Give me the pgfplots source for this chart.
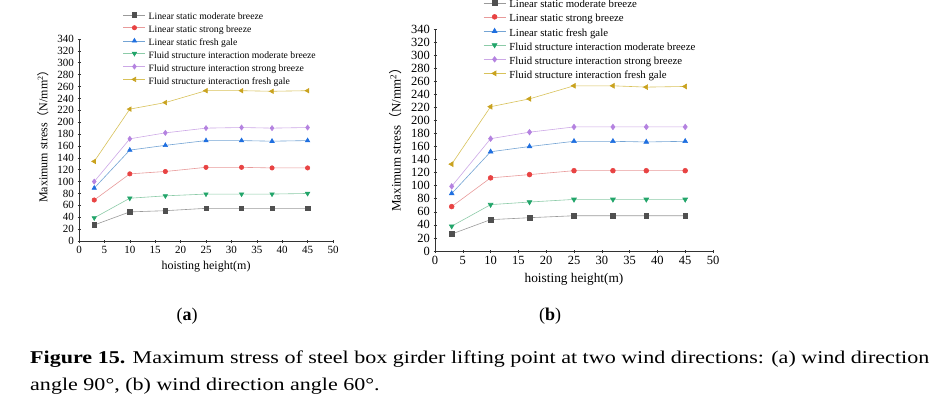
\documentclass[border=0pt]{standalone}
\usepackage{pgfplots}
\pgfplotsset{compat=1.18}
\usepackage{fontspec}
\setmainfont{Liberation Serif}
\newfontfamily\cjk{Noto Sans CJK SC}
\usepackage{graphicx}

\definecolor{mGray}{HTML}{505050}\definecolor{lGray}{HTML}{9A9A9A}
\definecolor{mRed}{HTML}{E84343}\definecolor{lRed}{HTML}{E89A9A}
\definecolor{mBlue}{HTML}{1F6FE0}\definecolor{lBlue}{HTML}{74A4D4}
\definecolor{mGreen}{HTML}{22A56A}\definecolor{lGreen}{HTML}{8CCBA8}
\definecolor{mPurple}{HTML}{B482E0}\definecolor{lPurple}{HTML}{CCA8E6}
\definecolor{mGold}{HTML}{C9A21E}\definecolor{lGold}{HTML}{D8C25A}

\pgfplotstableread{
x  lsm  lss  lsf  fsm  fss  fsf
3  27   69   89   39   100  134
10 49   113  153  72   172  222
17 51   117  161  76   182  233
25 55   124  169  79   190  253
32 55   124  169  79   191  253
38 55   123  168  79   190  252
45 55   123  169  80   191  253
}\dataA

\pgfplotstableread{
x  lsm  lss  lsf  fsm  fss  fsf
3  26   68   88   38   99   133
10 48   112  152  71   172  221
17 51   117  160  75   182  233
25 54   123  168  79   190  253
32 54   123  168  79   190  253
38 54   123  167  79   190  251
45 54   123  168  79   190  252
}\dataB

\pgfplotsset{
  common/.style={
    scale only axis,
    axis lines=left,
    axis line style={-, line width=0.6pt, black!80},
    tick style={line width=0.6pt, black!80},
    major tick length=3pt,
    xmin=0, xmax=50, ymin=0, ymax=340,
    xtick={0,5,...,50}, ytick={0,20,...,340},
    /pgf/number format/assume math mode=true,
    legend cell align=left,
    legend image code/.code={\draw[mark repeat=2,mark phase=2,#1,yshift=2.5pt] plot coordinates {(0pt,0pt) (11pt,0pt) (22pt,0pt)};},
    clip=false,
  },
  sA/.style={color=lGray, line width=0.6pt, mark=square*, mark options={fill=mGray, draw=mGray, solid}},
  sB/.style={color=lRed, line width=0.6pt, mark=*, mark options={fill=mRed, draw=mRed, solid}},
  sC/.style={color=lBlue, line width=0.6pt, mark=triangle*, mark options={fill=mBlue, draw=mBlue, solid, scale=1.15}},
  sD/.style={color=lGreen, line width=0.6pt, mark=triangle*, mark options={fill=mGreen, draw=mGreen, solid, rotate=180, scale=1.15}},
  sE/.style={color=lPurple, line width=0.6pt, mark=diamond*, mark options={fill=mPurple, draw=mPurple, solid, scale=1.15}},
  sF/.style={color=lGold, line width=0.6pt, mark=triangle*, mark options={fill=mGold, draw=mGold, solid, rotate=90, scale=1.15}},
}

\begin{document}
\begin{tikzpicture}[x=1pt,y=1pt]
\path[use as bounding box] (0,0) rectangle (934,400);

% ---------- panel (a)
\begin{axis}[common,
  at={(79pt,159pt)}, anchor=south west,
  width=254pt, height=202pt,
  mark size=2.2pt,
  ticklabel style={font=\fontsize{11}{12}\selectfont},
  xlabel={hoisting height(m)},
  ylabel={Maximum stress{\cjk （}N/mm\textsuperscript{2}{\cjk ）}},
  xlabel style={at={(axis description cs:0.5,-0.129)}, anchor=center, font=\fontsize{12}{13}\selectfont},
  ylabel style={at={(axis description cs:-0.142,0.532)}, anchor=center, font=\fontsize{12}{13}\selectfont},
  legend style={draw=none, fill=none, at={(0.173,1.131)}, anchor=north west, inner sep=0pt,
    row sep=3.6pt, column sep=3pt,
    nodes={inner sep=0pt, text height=7pt, text depth=2pt, font=\fontsize{9.7}{11}\selectfont}},
]
\addplot[sA] table[x=x,y=lsm]{\dataA};
\addplot[sB] table[x=x,y=lss]{\dataA};
\addplot[sC] table[x=x,y=lsf]{\dataA};
\addplot[sD] table[x=x,y=fsm]{\dataA};
\addplot[sE] table[x=x,y=fss]{\dataA};
\addplot[sF] table[x=x,y=fsf]{\dataA};
\legend{Linear static moderate breeze, Linear static strong breeze, Linear static fresh gale,
  Fluid structure interaction moderate breeze, Fluid structure interaction strong breeze,
  Fluid structure interaction fresh gale}
\end{axis}

% ---------- panel (b)
\begin{axis}[common,
  at={(435pt,149pt)}, anchor=south west,
  width=278pt, height=222pt,
  mark size=2.4pt,
  ticklabel style={font=\fontsize{12.5}{13}\selectfont},
  xlabel={hoisting height(m)},
  ylabel={Maximum stress{\cjk （}N/mm\textsuperscript{2}{\cjk ）}},
  xlabel style={at={(axis description cs:0.5,-0.126)}, anchor=center, font=\fontsize{13.3}{14}\selectfont},
  ylabel style={at={(axis description cs:-0.141,0.516)}, anchor=center, font=\fontsize{13}{14}\selectfont},
  legend style={draw=none, fill=none, at={(0.173,1.13)}, anchor=north west, inner sep=0pt,
    row sep=4pt, column sep=3.5pt,
    nodes={inner sep=0pt, text height=7.5pt, text depth=2.5pt, font=\fontsize{10.8}{12}\selectfont}},
]
\addplot[sA] table[x=x,y=lsm]{\dataB};
\addplot[sB] table[x=x,y=lss]{\dataB};
\addplot[sC] table[x=x,y=lsf]{\dataB};
\addplot[sD] table[x=x,y=fsm]{\dataB};
\addplot[sE] table[x=x,y=fss]{\dataB};
\addplot[sF] table[x=x,y=fsf]{\dataB};
\legend{Linear static moderate breeze, Linear static strong breeze, Linear static fresh gale,
  Fluid structure interaction moderate breeze, Fluid structure interaction strong breeze,
  Fluid structure interaction fresh gale}
\end{axis}

% ---------- sub-labels and caption
\node[anchor=base, inner sep=0pt, font=\fontsize{18}{20}\selectfont] at (187,80) {(\textbf{a})};
\node[anchor=base, inner sep=0pt, font=\fontsize{18}{20}\selectfont] at (550,80) {(\textbf{b})};
\node[anchor=base west, inner sep=0pt] at (30,37) {\fontsize{18}{27}\selectfont
  \resizebox{899pt}{\height}{\begin{tabular}[t]{@{}l@{}}
  \textbf{Figure 15.} Maximum stress of steel box girder lifting point at two wind directions: (a) wind direction\\
  angle 90°, (b) wind direction angle 60°.
  \end{tabular}}};
\end{tikzpicture}
\end{document}
